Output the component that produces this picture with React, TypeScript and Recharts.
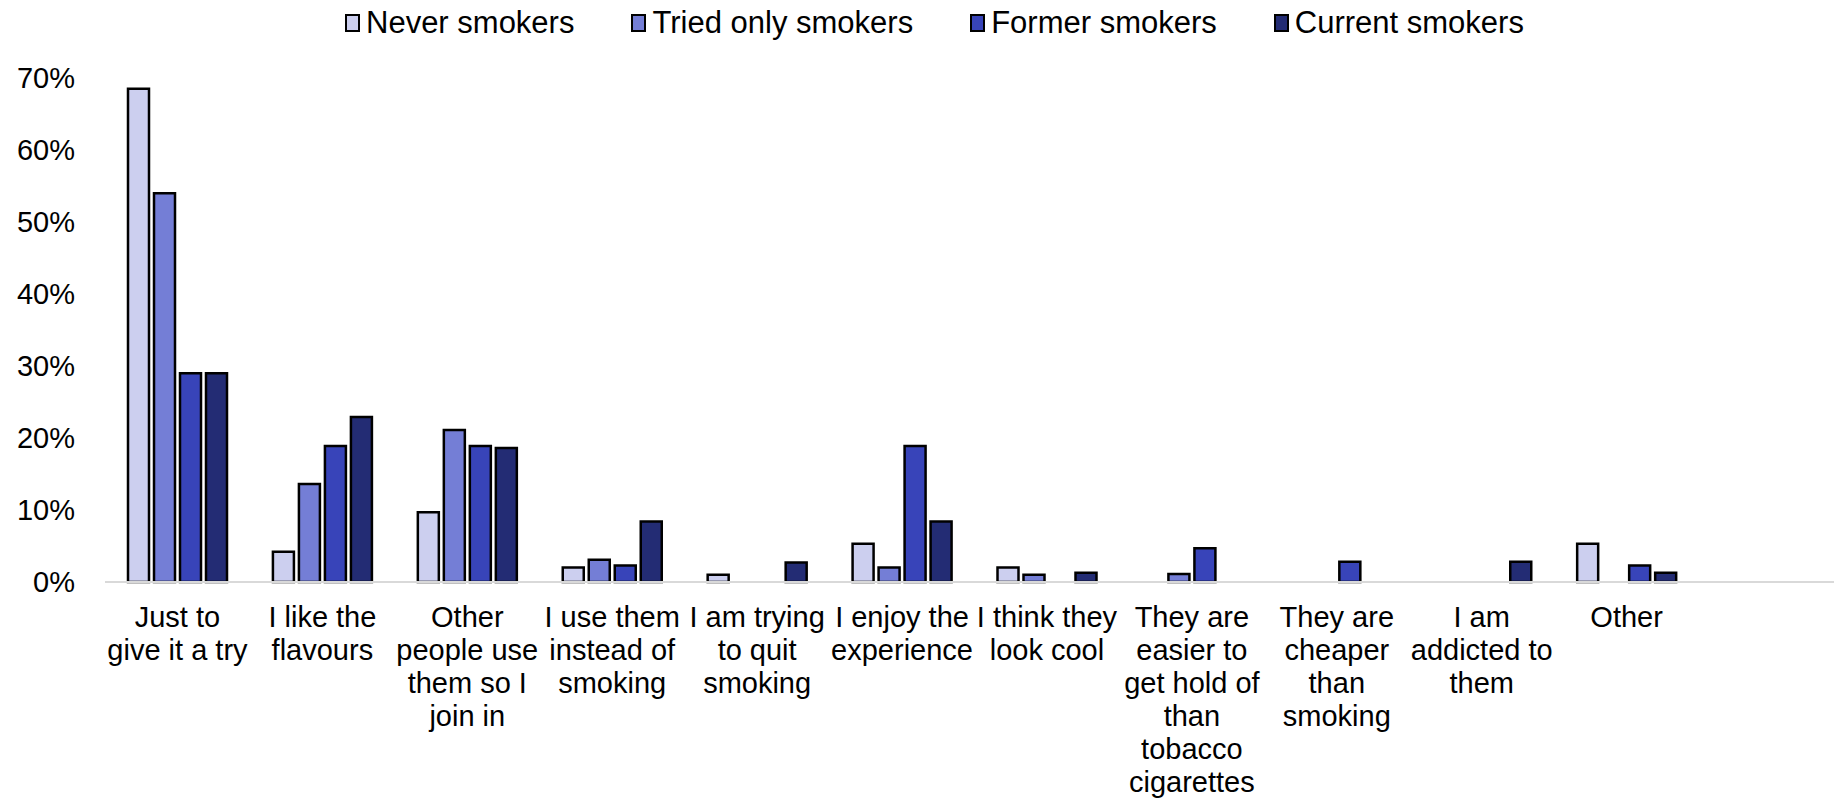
import { BarChart, Bar, XAxis, YAxis } from "recharts";

const categories = [
  "Just to\ngive it a try",
  "I like the\nflavours",
  "Other\npeople use\nthem so I\njoin in",
  "I use them\ninstead of\nsmoking",
  "I am trying\nto quit\nsmoking",
  "I enjoy the\nexperience",
  "I think they\nlook cool",
  "They are\neasier to\nget hold of\nthan\ntobacco\ncigarettes",
  "They are\ncheaper\nthan\nsmoking",
  "I am\naddicted to\nthem",
  "Other",
  "",
];

const neverSmokers = [68.5, 4.2, 9.7, 2.0, 1.0, 5.3, 2.0, 0, 0, 0, 5.3, 0];
const triedOnly = [54, 13.6, 21.1, 3.1, 0, 2.0, 1.0, 1.1, 0, 0, 0, 0];
const formerSmokers = [29, 18.9, 18.9, 2.3, 0, 18.9, 0, 4.7, 2.8, 0, 2.3, 0];
const currentSmokers = [29, 22.9, 18.6, 8.4, 2.7, 8.4, 1.3, 0, 0, 2.8, 1.3, 0];

const yTicks = [0, 10, 20, 30, 40, 50, 60, 70];

const series = [
  { key: "never", name: "Never smokers", color: "#CCCFEF" },
  { key: "tried", name: "Tried only smokers", color: "#747ED6" },
  { key: "former", name: "Former smokers", color: "#3844B9" },
  { key: "current", name: "Current smokers", color: "#232C74" },
];

const data = categories.map((c, i) => ({
  category: c,
  never: neverSmokers[i],
  tried: triedOnly[i],
  former: formerSmokers[i],
  current: currentSmokers[i],
}));

const FONT = '"Liberation Sans", Arial, sans-serif';

function CategoryTick({ x, y, payload }: any) {
  const lines = String(payload.value).split("\n");
  return (
    <text x={x} y={y} textAnchor="middle" fill="#000" fontSize={29} fontFamily={FONT}>
      {lines.map((ln, i) => (
        <tspan key={i} x={x} y={y + 45 + i * 33}>
          {ln}
        </tspan>
      ))}
    </text>
  );
}

function ChartLegend() {
  return (
    <div
      style={{
        position: "absolute",
        left: 345,
        top: 5,
        display: "flex",
        alignItems: "center",
        gap: 57,
        fontFamily: FONT,
        fontSize: 31,
        lineHeight: "35px",
        color: "#000",
        whiteSpace: "nowrap",
      }}
    >
      {series.map((s) => (
        <div key={s.key} style={{ display: "flex", alignItems: "center", gap: 6 }}>
          <span
            style={{
              display: "inline-block",
              width: 15,
              height: 18,
              boxSizing: "border-box",
              border: "2px solid #000",
              background: s.color,
            }}
          />
          <span>{s.name}</span>
        </div>
      ))}
    </div>
  );
}

export default function App() {
  return (
    <div style={{ position: "relative", width: 1834, height: 801, overflow: "hidden", background: "#fff" }}>
      <style>{"body{margin:0}"}</style>
      <BarChart
        width={1845}
        height={801}
        data={data}
        margin={{ top: 78, right: 1, bottom: 0, left: 0 }}
        barSize={21}
        barGap={5}
      >
        <XAxis
          dataKey="category"
          interval={0}
          height={219}
          axisLine={{ stroke: "#d9d9d9", strokeWidth: 2 }}
          tickLine={false}
          tickSize={0}
          tickMargin={0}
          tick={<CategoryTick />}
        />
        <YAxis
          width={105}
          domain={[0, 70]}
          ticks={yTicks}
          tickFormatter={(v: number) => `${v}%`}
          axisLine={false}
          tickLine={false}
          tickSize={0}
          tickMargin={30}
          tick={{ fill: "#000", fontSize: 29, fontFamily: FONT }}
        />
        {series.map((s) => (
          <Bar
            key={s.key}
            dataKey={s.key}
            name={s.name}
            fill={s.color}
            stroke="#000"
            strokeWidth={2.5}
            isAnimationActive={false}
          />
        ))}
      </BarChart>
      <ChartLegend />
    </div>
  );
}
